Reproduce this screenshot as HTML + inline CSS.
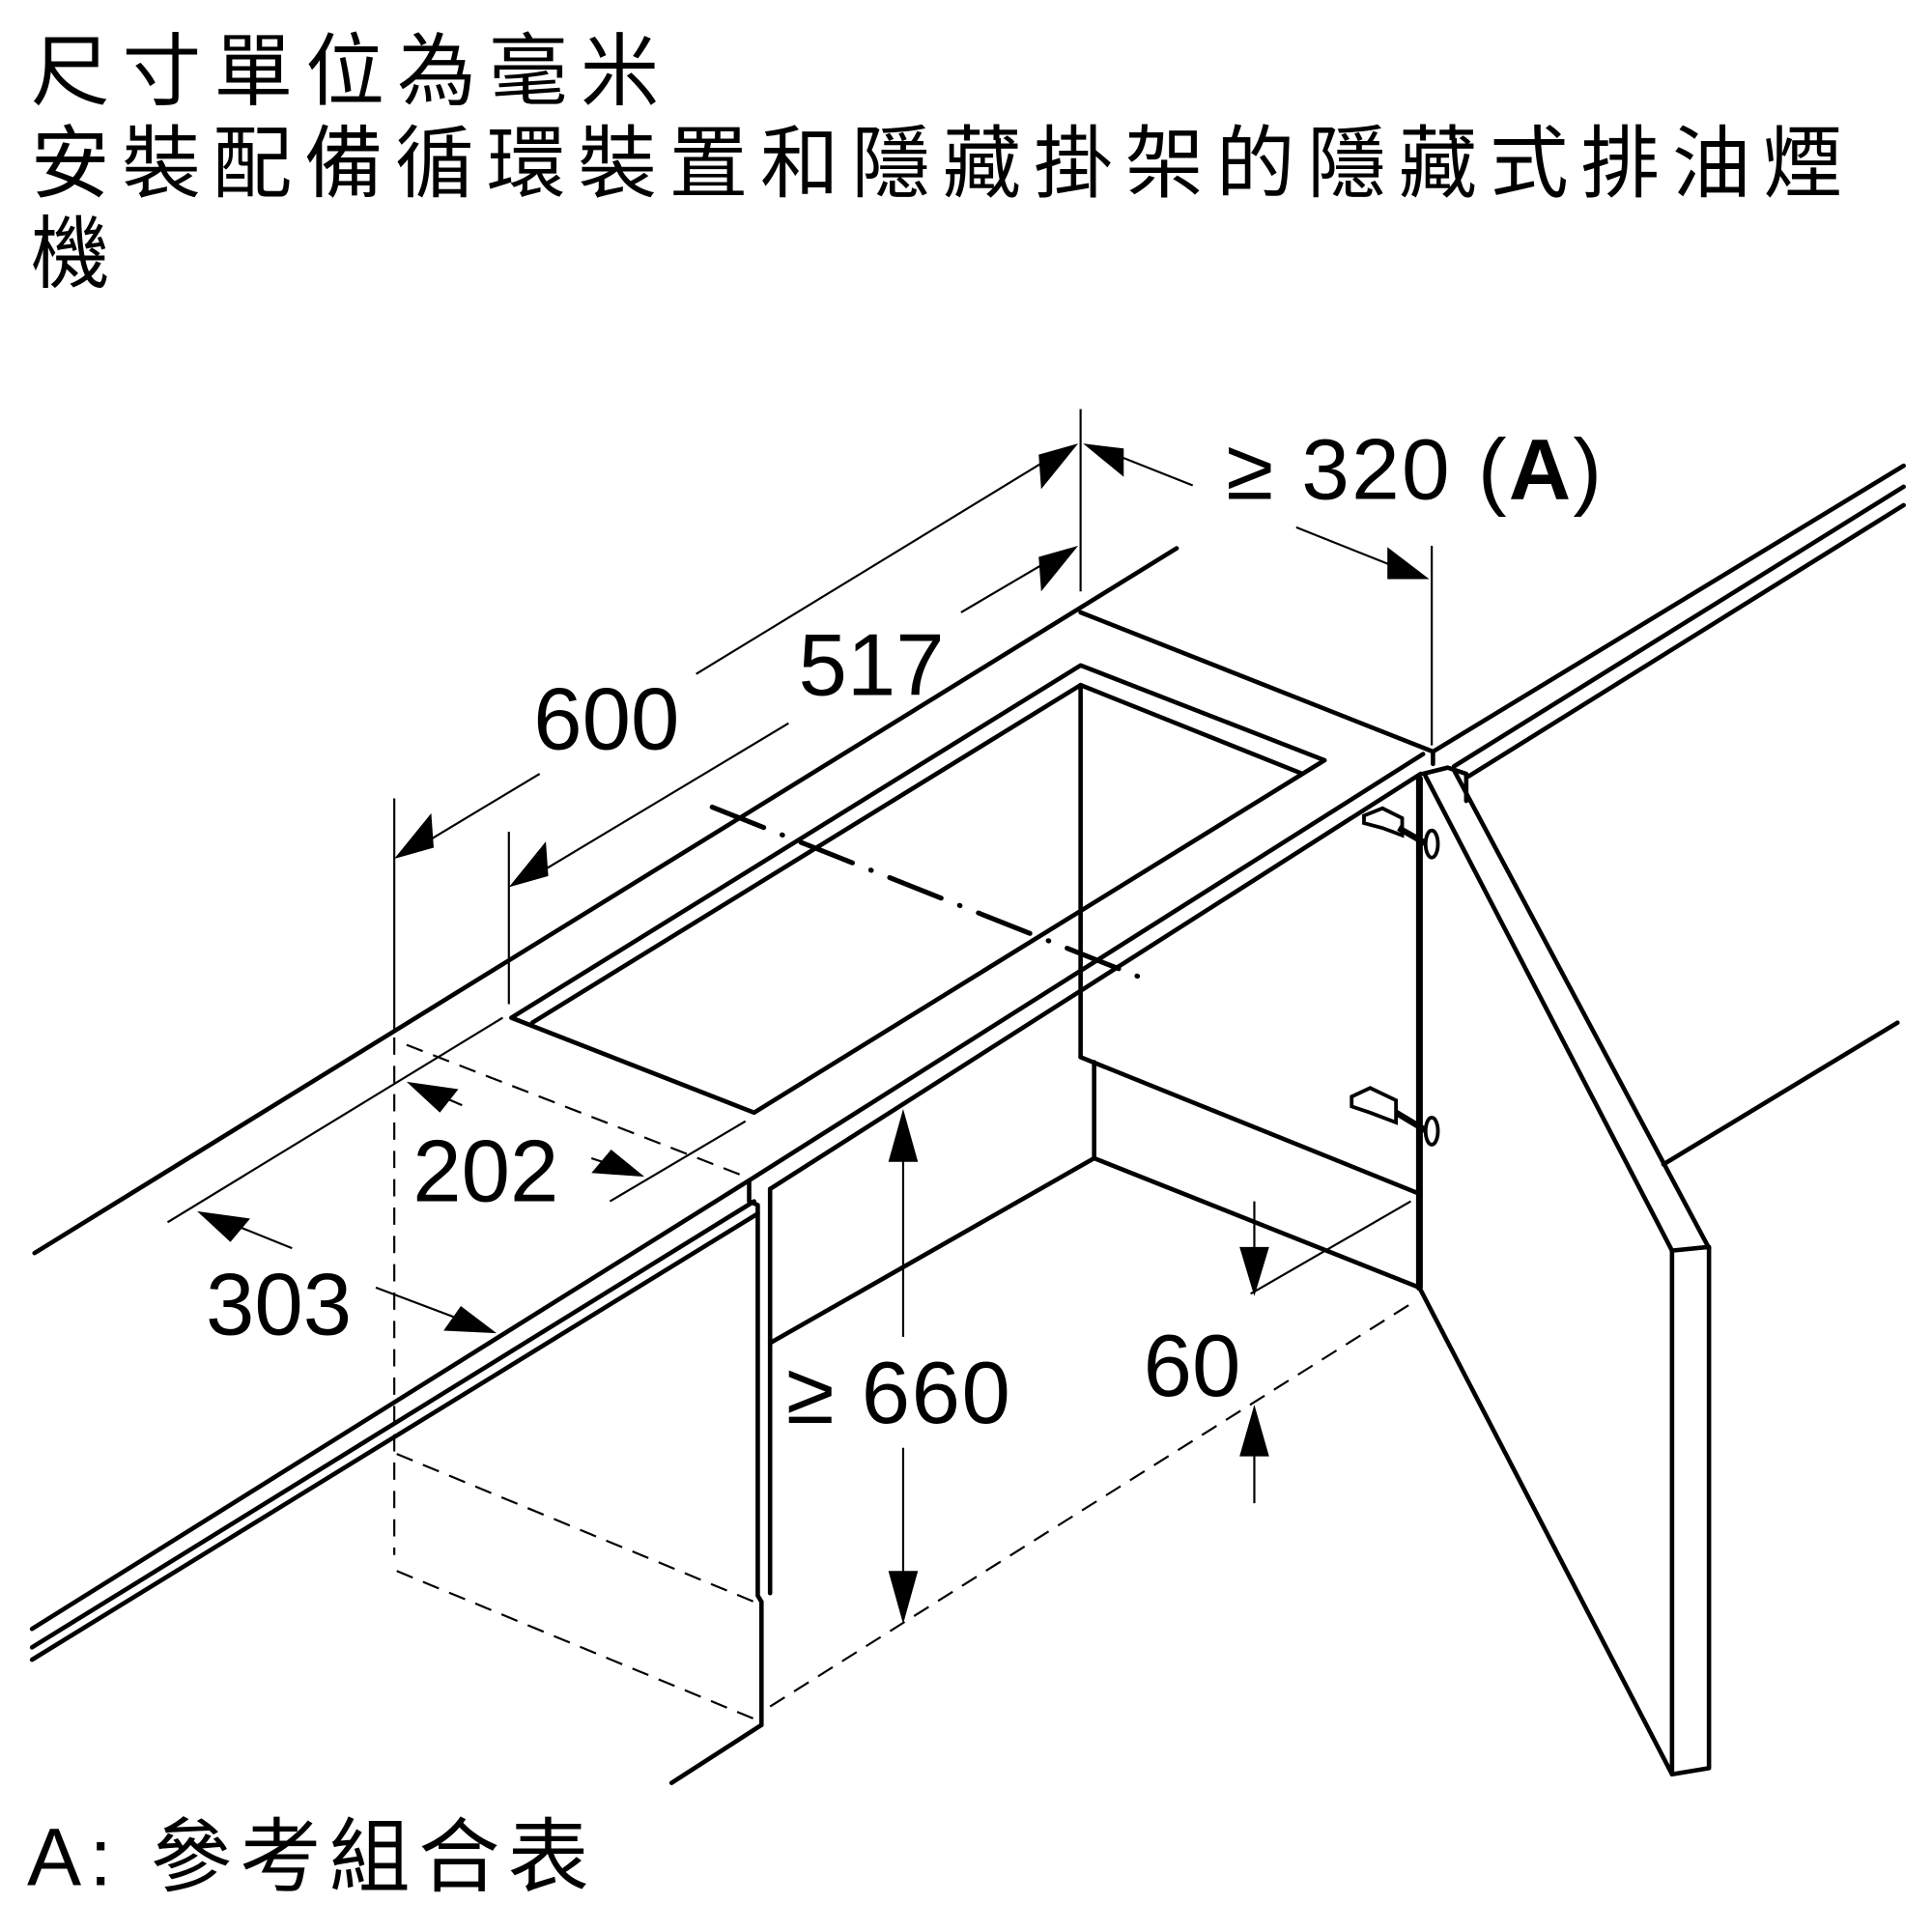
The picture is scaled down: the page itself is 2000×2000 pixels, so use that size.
<!DOCTYPE html>
<html><head><meta charset="utf-8">
<style>
html,body{margin:0;padding:0;background:#fff;}
svg{display:block;}
text{font-family:"Liberation Sans","Noto Sans CJK TC",sans-serif;fill:#000;}
</style></head>
<body>
<svg width="2000" height="2000" viewBox="0 0 1568 1568" xmlns="http://www.w3.org/2000/svg">
<!-- Title -->
<text x="25" y="80" font-size="64" textLength="510" lengthAdjust="spacing">尺寸單位為毫米</text>
<text x="25" y="155" font-size="64" textLength="1470" lengthAdjust="spacing">安裝配備循環裝置和隱藏掛架的隱藏式排油煙</text>
<text x="25" y="228" font-size="64">機</text>
<text x="22" y="1530" font-size="66" textLength="456" lengthAdjust="spacing">A: 參考組合表</text>

<!-- dimension texts -->
<text x="433" y="608" font-size="71">600</text>
<text x="648" y="564" font-size="71">517</text>
<text x="995" y="405" font-size="70" textLength="305" lengthAdjust="spacing">≥ 320 (<tspan font-weight="bold">A</tspan>)</text>
<text x="335" y="975" font-size="71">202</text>
<text x="167" y="1083" font-size="71">303</text>
<text x="638" y="1155" font-size="71" textLength="182" lengthAdjust="spacing">≥ 660</text>
<text x="928" y="1133" font-size="71">60</text>

<g fill="none" stroke="#000" stroke-width="3.6" stroke-linejoin="round" stroke-linecap="round">
<line x1="28" y1="1017" x2="955" y2="445"/>
<polygon points="415,826 877,540 1075,617 612,903"/>
<polyline points="432,830 877,556 1057,628"/>
<line x1="877" y1="497" x2="1163" y2="610"/>
<line x1="877" y1="556" x2="877" y2="858"/>
<line x1="877" y1="858" x2="1150" y2="968"/>
<line x1="888" y1="862" x2="888" y2="940"/>
<line x1="888" y1="940" x2="1152" y2="1045"/>
<line x1="625" y1="1090" x2="888" y2="940"/>
<line x1="26" y1="1322" x2="608" y2="958"/>
<line x1="26" y1="1337" x2="612" y2="975"/>
<line x1="26" y1="1347" x2="615" y2="985"/>
<polyline points="608,958 608,975 615,978 615,1295 618,1300"/>
<line x1="608" y1="958" x2="1155" y2="612"/>
<line x1="625" y1="965" x2="1153" y2="628"/>
<line x1="625" y1="965" x2="625" y2="1293"/>
<line x1="618" y1="1300" x2="618" y2="1400"/>
<line x1="618" y1="1400" x2="545" y2="1447"/>
<line x1="1163" y1="610" x2="1545" y2="378"/>
<line x1="1180" y1="622" x2="1545" y2="395"/>
<line x1="1192" y1="630" x2="1545" y2="410"/>
<line x1="1163" y1="610" x2="1163" y2="620"/>
<line x1="1152" y1="632" x2="1152" y2="1045" stroke-width="5.5"/>
<polyline points="1155,628 1175,623 1190,628 1190,650"/>
<line x1="1157" y1="630" x2="1357" y2="1015"/>
<line x1="1180" y1="625" x2="1387" y2="1013"/>
<polyline points="1357,1015 1387,1012 1387,1435 1357,1440 1357,1015"/>
<line x1="1152" y1="1045" x2="1357" y2="1440"/>
<line x1="1350" y1="945" x2="1540" y2="830"/>
</g>

<g fill="#fff" stroke="#000" stroke-width="3">
<polygon points="1107,662 1122,656 1138,664 1138,678 1122,672 1107,668"/>
<polygon points="1097,890 1112,883 1133,893 1133,911 1112,903 1097,898"/>
<line x1="1135" y1="672" x2="1158" y2="685" stroke-width="5"/>
<line x1="1133" y1="903" x2="1158" y2="918" stroke-width="5"/>
<ellipse cx="1162" cy="685" rx="5" ry="11"/>
<ellipse cx="1162" cy="918" rx="5" ry="11"/>
</g>

<g fill="none" stroke="#000" stroke-width="1.7">
<line x1="877" y1="332" x2="877" y2="480"/>
<line x1="1162" y1="443" x2="1162" y2="605"/>
<line x1="320" y1="648" x2="320" y2="838"/>
<line x1="413" y1="675" x2="413" y2="815"/>
<line x1="565" y1="547" x2="860" y2="367"/>
<line x1="438" y1="628" x2="335" y2="690"/>
<line x1="640" y1="587" x2="430" y2="713"/>
<line x1="780" y1="497" x2="860" y2="450"/>
<line x1="968" y1="394" x2="895" y2="365"/>
<line x1="1052" y1="428" x2="1145" y2="465"/>
<line x1="136" y1="992" x2="408" y2="826"/>
<line x1="495" y1="975" x2="605" y2="910"/>
<line x1="345" y1="884" x2="375" y2="897"/>
<line x1="480" y1="940" x2="510" y2="950"/>
<line x1="175" y1="988" x2="237" y2="1013"/>
<line x1="305" y1="1045" x2="390" y2="1077"/>
<line x1="733" y1="915" x2="733" y2="1085"/>
<line x1="733" y1="1175" x2="733" y2="1300"/>
<line x1="1018" y1="975" x2="1018" y2="1035"/>
<line x1="1018" y1="1160" x2="1018" y2="1220"/>
<line x1="1145" y1="975" x2="1015" y2="1050"/>
</g>
<g fill="none" stroke="#000" stroke-width="1.7" stroke-dasharray="14,9">
<line x1="320" y1="842" x2="320" y2="1262"/>
<line x1="330" y1="848" x2="605" y2="955"/>
<line x1="322" y1="1180" x2="612" y2="1300"/>
<line x1="322" y1="1275" x2="612" y2="1395"/>
<line x1="625" y1="1385" x2="1150" y2="1055"/>
</g>
<g fill="none" stroke="#000" stroke-width="4" stroke-linecap="round" stroke-dasharray="45,16,0.5,16">
<line x1="578" y1="655" x2="925" y2="793"/>
</g>

<g fill="#000" stroke="none">
<polygon points="320,697 350,660 352,688"/>
<polygon points="413,720 443,683 445,711"/>
<polygon points="875,360 845,397 843,369"/>
<polygon points="875,443 845,480 843,452"/>
<polygon points="879,360 912,387 912,364"/>
<polygon points="1160,470 1126,470 1126,444"/>
<polygon points="330,878 372,884 357,903"/>
<polygon points="523,955 480,952 496,933"/>
<polygon points="160,983 203,989 187,1008"/>
<polygon points="403,1082 360,1080 374,1060"/>
<polygon points="733,900 721,943 745,943"/>
<polygon points="733,1318 721,1275 745,1275"/>
<polygon points="1018,1052 1006,1012 1030,1012"/>
<polygon points="1018,1140 1006,1182 1030,1182"/>
</g>
</svg>
</body></html>
